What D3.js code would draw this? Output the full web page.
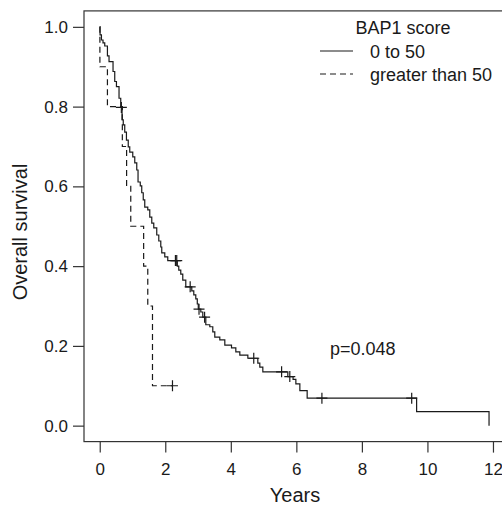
<!DOCTYPE html>
<html>
<head>
<meta charset="utf-8">
<script src="https://cdn.jsdelivr.net/npm/d3@7"></script>
<style>
  html, body { margin: 0; padding: 0; background: #fff; }
  svg { display: block; }
  text { font-family: "Liberation Sans", Arial, Helvetica, sans-serif; fill: #1a1a1a; }
</style>
</head>
<body>
<svg id="chart" width="502" height="507"></svg>
<script>
// ---- Data ----
const xTicks = [0, 2, 4, 6, 8, 10, 12];
const yTicks = [0, 0.2, 0.4, 0.6, 0.8, 1.0];
const legendTitle = "BAP1 score";
const seriesNames = ["0 to 50", "greater than 50"];
const pValueLabel = "p=0.048";

// Group "0 to 50": step drop times and survival after each drop
const lowTimes = [0.01, 0.052, 0.10, 0.153, 0.235, 0.284, 0.406, 0.458, 0.51, 0.589, 0.641,
  0.681, 0.718, 0.763, 0.815, 0.870, 0.916, 1.008, 1.069, 1.130, 1.169, 1.237, 1.282, 1.328,
  1.374, 1.466, 1.527, 1.588, 1.649, 1.740, 1.802, 1.863, 1.893, 1.985, 2.076, 2.366, 2.412,
  2.473, 2.534, 2.626, 2.809, 2.87, 2.931, 2.977, 3.008, 3.084, 3.145, 3.237, 3.359, 3.45,
  3.511, 3.664, 3.817, 4.021, 4.153, 4.275, 4.52, 4.824, 4.885, 4.977, 5.74, 5.90, 5.985,
  6.107, 6.33, 9.67, 11.88];
const lowSurv = [0.98, 0.967, 0.960, 0.952, 0.927, 0.913, 0.888, 0.863, 0.850, 0.821, 0.798,
  0.767, 0.754, 0.736, 0.716, 0.699, 0.686, 0.674, 0.659, 0.641, 0.611, 0.601, 0.584, 0.566,
  0.548, 0.541, 0.523, 0.508, 0.496, 0.478, 0.463, 0.448, 0.433, 0.423, 0.414, 0.400, 0.390,
  0.380, 0.365, 0.348, 0.338, 0.328, 0.318, 0.305, 0.292, 0.285, 0.272, 0.253, 0.248, 0.235,
  0.222, 0.215, 0.202, 0.195, 0.185, 0.177, 0.169, 0.157, 0.147, 0.135, 0.123, 0.116, 0.105,
  0.088, 0.069, 0.035, 0.0];
const lowCensorTimes = [0.66, 2.31, 2.35, 2.76, 3.03, 3.20, 4.70, 5.55, 5.80, 6.78, 9.52];
const lowCensorSurv  = [0.798, 0.414, 0.414, 0.348, 0.292, 0.272, 0.169, 0.135, 0.123, 0.069, 0.069];

// Group "greater than 50"
const highTimes = [0.005, 0.235, 0.69, 0.82, 0.947, 1.34, 1.466, 1.61];
const highSurv  = [0.9, 0.8, 0.7, 0.6, 0.5, 0.4, 0.3, 0.1];
const highEnd = 2.22;
const highCensorTimes = [2.22];
const highCensorSurv  = [0.1];

// ---- Layout ----
const svg = d3.select("#chart");
const x = d3.scaleLinear().domain([-0.48, 12.48]).range([84, 508.7]);
const y = d3.scaleLinear().domain([-0.04, 1.04]).range([441.6, 10.9]);
const ink = "#1a1a1a";

// Frame
svg.append("rect")
  .attr("x", x(-0.48)).attr("y", y(1.04))
  .attr("width", x(12.48) - x(-0.48)).attr("height", y(-0.04) - y(1.04))
  .attr("fill", "none").attr("stroke", "#333").attr("stroke-width", 1.2);

// Axes
const xAxis = d3.axisBottom(x).tickValues(xTicks).tickSize(11).tickPadding(10)
  .tickFormat(d3.format("d"));
const gx = svg.append("g").attr("transform", `translate(0,${y(-0.04)})`).call(xAxis);
gx.select(".domain").remove();
gx.selectAll("line").attr("stroke", "#333").attr("stroke-width", 1.2);
gx.selectAll("text").attr("font-size", 17).attr("fill", ink)
  .attr("font-family", "Liberation Sans, Arial, sans-serif");

const yAxis = d3.axisLeft(y).tickValues(yTicks).tickSize(11).tickPadding(5)
  .tickFormat(d3.format(".1f"));
const gy = svg.append("g").attr("transform", `translate(${x(-0.48)},0)`).call(yAxis);
gy.select(".domain").remove();
gy.selectAll("line").attr("stroke", "#333").attr("stroke-width", 1.2);
gy.selectAll("text").attr("font-size", 17).attr("fill", ink)
  .attr("font-family", "Liberation Sans, Arial, sans-serif");

// Axis titles
svg.append("text").attr("x", 295).attr("y", 502).attr("text-anchor", "middle")
  .attr("font-size", 20).text("Years");
svg.append("text").attr("transform", "translate(27,232) rotate(-90)")
  .attr("text-anchor", "middle").attr("font-size", 20).text("Overall survival");

// Curves
const step = d3.line().x(d => x(d[0])).y(d => y(d[1])).curve(d3.curveStepAfter);
const lowPts = [[0, 1]].concat(lowTimes.map((t, i) => [t, lowSurv[i]]));
const highPts = [[0, 1]].concat(highTimes.map((t, i) => [t, highSurv[i]]))
  .concat([[highEnd, highSurv[highSurv.length - 1]]]);

svg.append("path").attr("d", step(lowPts)).attr("fill", "none")
  .attr("stroke", ink).attr("stroke-width", 1.2);
svg.append("path").attr("d", step(highPts)).attr("fill", "none")
  .attr("stroke", ink).attr("stroke-width", 1.2).attr("stroke-dasharray", "6,4");

// Censor marks
function censor(ts, ss) {
  ts.forEach((t, i) => {
    const cx = x(t), cy = y(ss[i]);
    svg.append("path").attr("d", `M${cx - 5.5},${cy}H${cx + 5.5}M${cx},${cy - 5.5}V${cy + 5.5}`)
      .attr("stroke", ink).attr("stroke-width", 1.2).attr("fill", "none");
  });
}
censor(lowCensorTimes, lowCensorSurv);
censor(highCensorTimes, highCensorSurv);

// Legend
svg.append("text").attr("x", 403).attr("y", 34).attr("text-anchor", "middle")
  .attr("font-size", 18).text(legendTitle);
const legY = [51, 74];
const dashes = [null, "6,4"];
seriesNames.forEach((name, i) => {
  const ln = svg.append("line").attr("x1", 320).attr("x2", 353)
    .attr("y1", legY[i]).attr("y2", legY[i])
    .attr("stroke", ink).attr("stroke-width", 1.2);
  if (dashes[i]) ln.attr("stroke-dasharray", dashes[i]);
  svg.append("text").attr("x", 370).attr("y", legY[i] + 6.5).attr("font-size", 18).text(name);
});

// p-value
svg.append("text").attr("x", 330).attr("y", 355).attr("font-size", 18).text(pValueLabel);
</script>
</body>
</html>
